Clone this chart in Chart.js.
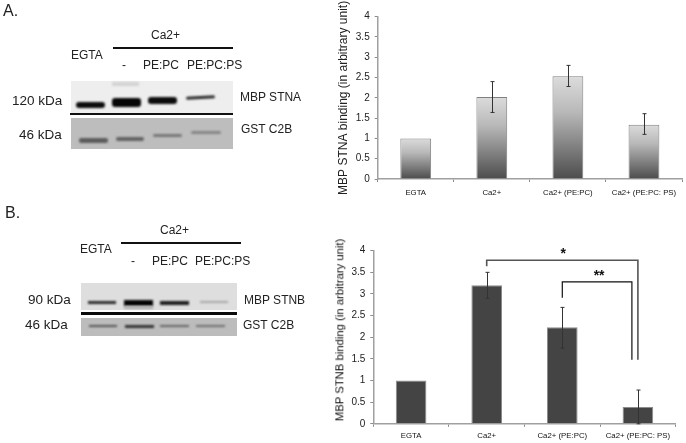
<!DOCTYPE html>
<html>
<head>
<meta charset="utf-8">
<script src="https://cdn.jsdelivr.net/npm/chart.js@4"></script>
<style>
    html, body { margin: 0; padding: 0; background: #fff; }
    #page { position: relative; width: 686px; height: 443px; overflow: hidden; font-family: "Liberation Sans", Arial, sans-serif; color: #222; filter: blur(0.3px); }
    #page canvas { position: absolute; }
    .t { position: absolute; white-space: nowrap; line-height: 1; font-size: 12px; transform: translateY(-50%); }
    .k { font-size: 13.5px; }
    .h { font-size: 16px; }
    .r { position: absolute; }
    .b { position: absolute; filter: blur(1px); }
    .v { position: absolute; white-space: nowrap; line-height: 1; font-size: 11.3px; color: #111; transform: translate(-50%, -50%) rotate(-90deg); }
</style>
</head>
<body>
<div id="page">
    <!-- Panel A, blot -->
    <div class="t h" style="left:3px;top:11px">A.</div>
    <div class="t" style="left:151px;top:35px">Ca2+</div>
    <div class="r" style="left:113px;top:47px;width:120px;height:2px;background:#111"></div>
    <div class="t" style="left:71px;top:55px">EGTA</div>
    <div class="t" style="left:122px;top:65px">-</div>
    <div class="t" style="left:143px;top:65px">PE:PC</div>
    <div class="t" style="left:187px;top:65px">PE:PC:PS</div>
    <div class="t k" style="left:12px;top:101px">120 kDa</div>
    <div class="t k" style="left:19px;top:135px">46 kDa</div>
    <div class="t" style="left:240px;top:97px">MBP STNA</div>
    <div class="t" style="left:241px;top:129px">GST C2B</div>

    <div class="r" style="left:71px;top:81px;width:162px;height:32px;background:#eeeeee"></div>
    <div class="b" style="left:112px;top:82px;width:27px;height:4px;background:#d4d4d4"></div>
    <div class="b" style="left:76px;top:102px;width:29px;height:6px;background:#0c0c0c;border-radius:3px"></div>
    <div class="b" style="left:112px;top:98px;width:29px;height:9px;background:#060606;border-radius:3px"></div>
    <div class="b" style="left:148px;top:97px;width:29px;height:7px;background:#0c0c0c;border-radius:3px"></div>
    <div class="b" style="left:186px;top:96px;width:29px;height:3px;background:#2a2a2a;border-radius:2px;transform:rotate(-3deg)"></div>
    <div class="r" style="left:70px;top:113px;width:163px;height:2px;background:#111"></div>
    <div class="r" style="left:71px;top:118px;width:162px;height:31px;background:#bdbdbd"></div>
    <div class="b" style="left:79px;top:138px;width:29px;height:5px;background:#5c5c5c;border-radius:2px"></div>
    <div class="b" style="left:116px;top:137px;width:28px;height:4px;background:#636363;border-radius:2px"></div>
    <div class="b" style="left:153px;top:134px;width:29px;height:3px;background:#777;border-radius:2px"></div>
    <div class="b" style="left:191px;top:131px;width:30px;height:3px;background:#858585;border-radius:2px"></div>

    <!-- Panel B, blot -->
    <div class="t h" style="left:5px;top:213px">B.</div>
    <div class="t" style="left:160px;top:230px">Ca2+</div>
    <div class="r" style="left:121px;top:242px;width:120px;height:2px;background:#111"></div>
    <div class="t" style="left:80px;top:249px">EGTA</div>
    <div class="t" style="left:131px;top:261px">-</div>
    <div class="t" style="left:152px;top:261px">PE:PC</div>
    <div class="t" style="left:195px;top:261px">PE:PC:PS</div>
    <div class="t k" style="left:28px;top:300px">90 kDa</div>
    <div class="t k" style="left:25px;top:325px">46 kDa</div>
    <div class="t" style="left:244px;top:300px">MBP STNB</div>
    <div class="t" style="left:243px;top:325px">GST C2B</div>

    <div class="r" style="left:81px;top:283px;width:156px;height:27px;background:#dedede"></div>
    <div class="b" style="left:88px;top:301px;width:28px;height:3px;background:#2c2c2c"></div>
    <div class="b" style="left:124px;top:300px;width:29px;height:6px;background:#050505"></div>
    <div class="b" style="left:124px;top:306px;width:29px;height:3px;background:#b0b0b0"></div>
    <div class="b" style="left:160px;top:301px;width:29px;height:4px;background:#1c1c1c"></div>
    <div class="b" style="left:200px;top:301px;width:28px;height:2px;background:#a8a8a8"></div>
    <div class="r" style="left:81px;top:312px;width:156px;height:3px;background:#0a0a0a"></div>
    <div class="r" style="left:81px;top:318px;width:156px;height:18px;background:#bcbcbc"></div>
    <div class="b" style="left:89px;top:325px;width:28px;height:2px;background:#555"></div>
    <div class="b" style="left:125px;top:325px;width:29px;height:3px;background:#333"></div>
    <div class="b" style="left:160px;top:325px;width:29px;height:2px;background:#666"></div>
    <div class="b" style="left:196px;top:325px;width:29px;height:2px;background:#707070"></div>

    <canvas id="chartA" width="356" height="210" style="left:330px;top:0"></canvas>
    <canvas id="chartB" width="356" height="218" style="left:330px;top:225px"></canvas>
    <!-- panel B axis title sits above the middle of the plot, so it is placed by hand -->
    <div class="v" style="left:339.5px;top:330px">MBP STNB binding (in arbitrary unit)</div>
</div>

<script>
// Values
const categories = ['EGTA', 'Ca2+', 'Ca2+ (PE:PC)', 'Ca2+ (PE:PC: PS)'];

const stnaValues = [1, 2.02, 2.53, 1.34];
const stnaErrLow = [1, 1.64, 2.28, 1.1];
const stnaErrHigh = [1, 2.4, 2.8, 1.61];

const stnbValues = [1, 3.2, 2.23, 0.39];
const stnbErrLow = [1, 2.9, 1.75, 0];
const stnbErrHigh = [1, 3.5, 2.69, 0.78];

// Significance brackets of panel B: [from category, to category, top, left end, right end]
const starBracket = [1, 3, 3.78, 3.64, 1.48];
const doubleStarBracket = [2, 3, 3.28, 2.91, 1.48];

const FONT = '"Liberation Sans", Arial, sans-serif';

// Error bars, drawn from the low/high arrays
function errorBarPlugin(low, high, color) {
    return {
        id: 'errorBars',
        afterDatasetsDraw(chart) {
            const c = chart.ctx;
            const x = chart.scales.x;
            const y = chart.scales.y;
            c.save();
            c.strokeStyle = color;
            c.lineWidth = 1;
            low.forEach((v, i) => {
                if (v === high[i]) return;
                const px = Math.round(x.getPixelForValue(i)) + 0.5;
                const yLow = y.getPixelForValue(v);
                const yHigh = y.getPixelForValue(high[i]);
                c.beginPath();
                c.moveTo(px, yLow);
                c.lineTo(px, yHigh);
                c.moveTo(px - 2, yHigh);
                c.lineTo(px + 2, yHigh);
                c.moveTo(px - 2, yLow);
                c.lineTo(px + 2, yLow);
                c.stroke();
            });
            c.restore();
        }
    };
}

// Brackets and stars above the bars of panel B
const bracketPlugin = {
    id: 'brackets',
    afterDatasetsDraw(chart) {
        const c = chart.ctx;
        const x = chart.scales.x;
        const y = chart.scales.y;
        const draw = (b, rightShift, color, width, label) => {
            const x1 = x.getPixelForValue(b[0]);
            const x2 = x.getPixelForValue(b[1]) + rightShift;
            c.strokeStyle = color;
            c.lineWidth = width;
            c.beginPath();
            c.moveTo(x1, y.getPixelForValue(b[3]));
            c.lineTo(x1, y.getPixelForValue(b[2]));
            c.lineTo(x2, y.getPixelForValue(b[2]));
            c.lineTo(x2, y.getPixelForValue(b[4]));
            c.stroke();
            c.fillStyle = '#111';
            c.font = 'bold 14px ' + FONT;
            c.textAlign = 'center';
            c.textBaseline = 'middle';
            c.fillText(label, (x1 + x2) / 2 + label.length, y.getPixelForValue(b[2]) - 6);
        };
        c.save();
        draw(starBracket, 0, '#555', 1.6, '*');
        draw(doubleStarBracket, -6, '#111', 1.2, '**');
        c.restore();
    }
};

function gradientFill(context) {
    const chart = context.chart;
    if (!chart.chartArea) return '#999';
    const y = chart.scales.y;
    const g = chart.ctx.createLinearGradient(0, y.getPixelForValue(context.raw), 0, y.getPixelForValue(0));
    g.addColorStop(0, '#dcdcdc');
    g.addColorStop(0.35, '#b8b8b8');
    g.addColorStop(1, '#4c4c4c');
    return g;
}

function createChart(id, values, fill, border, yTitle, yWidth, padTop, padRight, xHeight, xPad, plugins) {
    return new Chart(document.getElementById(id), {
        type: 'bar',
        data: {
            labels: categories,
            datasets: [{
                data: values,
                backgroundColor: fill,
                borderColor: border,
                borderWidth: 1,
                categoryPercentage: 1,
                barPercentage: 0.405
            }]
        },
        plugins: plugins,
        options: {
            responsive: false,
            animation: false,
            layout: { padding: { top: padTop, right: padRight, left: 0, bottom: 0 } },
            plugins: { legend: { display: false }, tooltip: { enabled: false } },
            scales: {
                x: {
                    afterFit: scale => { scale.height = xHeight; },
                    grid: { drawOnChartArea: false, color: '#8a8a8a', tickLength: 3 },
                    border: { color: '#a0a0a0', width: 1.5 },
                    ticks: { color: '#111', padding: xPad, maxRotation: 0, autoSkip: false, font: { family: FONT, size: 7.8 } }
                },
                y: {
                    min: 0,
                    max: 4,
                    afterFit: scale => { scale.width = yWidth; },
                    title: {
                        display: yTitle !== '',
                        text: yTitle,
                        color: '#222',
                        padding: { top: 6, bottom: 0 },
                        font: { family: FONT, size: 12 }
                    },
                    grid: { drawOnChartArea: false, color: '#8a8a8a', tickLength: 3 },
                    border: { color: '#a0a0a0', width: 1.5 },
                    ticks: {
                        stepSize: 0.5,
                        color: '#222',
                        padding: 5,
                        font: { family: FONT, size: 10 },
                        callback: v => String(v)
                    }
                }
            }
        }
    });
}

createChart('chartA', stnaValues, gradientFill, '#808080', 'MBP STNA binding (in arbitrary unit)',
    47.7, 16.7, 4, 31, 6, [errorBarPlugin(stnaErrLow, stnaErrHigh, '#333')]);
createChart('chartB', stnbValues, '#444444', '#8c8c8c', '',
    43.3, 25.7, 10.3, 19.2, 4, [errorBarPlugin(stnbErrLow, stnbErrHigh, '#333'), bracketPlugin]);
</script>
</body>
</html>
